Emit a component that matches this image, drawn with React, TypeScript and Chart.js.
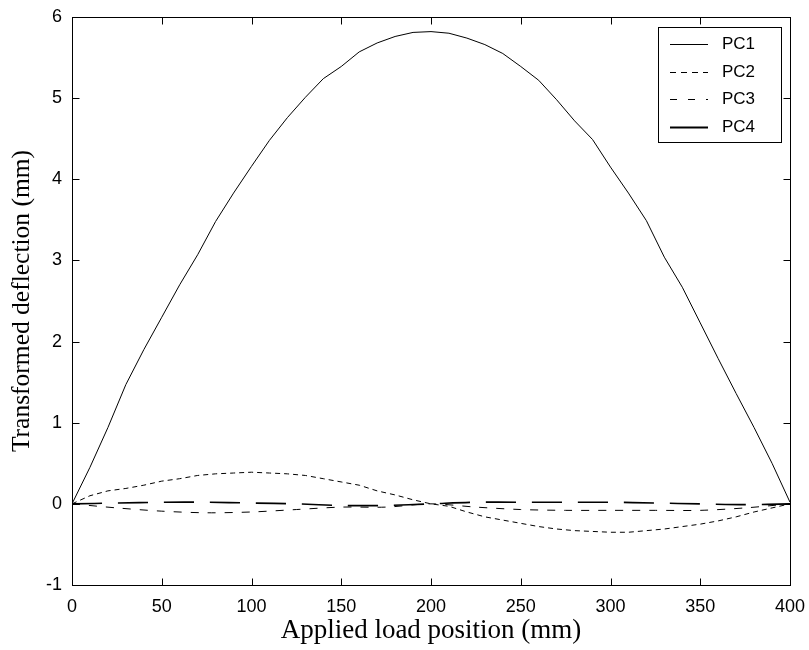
import React, { useEffect, useRef } from "react";
import { Chart, registerables } from "chart.js";

Chart.register(...registerables);

// X positions (mm)
const xPC1 = [0, 10, 20, 30, 40, 50, 60, 70, 80, 90, 100, 110, 120, 130, 140, 150, 160, 170, 180, 190, 200, 210, 220, 230, 240, 250, 260, 270, 280, 290, 300, 310, 320, 330, 340, 350, 360, 370, 380, 390, 400];
const pc1 = [0, 0.45, 0.94, 1.47, 1.9, 2.3, 2.7, 3.07, 3.48, 3.83, 4.16, 4.48, 4.76, 5.01, 5.24, 5.39, 5.57, 5.68, 5.76, 5.81, 5.82, 5.8, 5.74, 5.66, 5.55, 5.39, 5.22, 4.98, 4.72, 4.49, 4.15, 3.83, 3.49, 3.04, 2.67, 2.23, 1.79, 1.36, 0.94, 0.5, 0.02];
const pc2 = [0, 0.1, 0.16, 0.19, 0.23, 0.28, 0.31, 0.35, 0.37, 0.38, 0.39, 0.38, 0.37, 0.35, 0.31, 0.27, 0.23, 0.16, 0.11, 0.05, 0.0, -0.03, -0.1, -0.16, -0.2, -0.24, -0.28, -0.31, -0.33, -0.34, -0.35, -0.35, -0.33, -0.31, -0.28, -0.25, -0.21, -0.16, -0.1, -0.05, 0];
const xCoarse = [0, 25, 50, 75, 100, 125, 150, 175, 200, 225, 250, 275, 300, 325, 350, 375, 400];
const pc3 = [0, -0.05, -0.09, -0.11, -0.1, -0.07, -0.04, -0.04, 0, -0.04, -0.07, -0.08, -0.08, -0.08, -0.08, -0.05, 0];
const pc4 = [0, 0.01, 0.02, 0.02, 0.01, 0.0, -0.02, -0.02, 0, 0.02, 0.02, 0.02, 0.02, 0.01, 0.0, -0.01, 0];

const seriesNames = ["PC1", "PC2", "PC3", "PC4"];
const xTitle = "Applied load position (mm)";
const yTitle = "Transformed deflection (mm)";

const toPts = (xs: number[], ys: number[]) => xs.map((x, i) => ({ x, y: ys[i] }));

export default function App() {
  const ref = useRef<HTMLCanvasElement | null>(null);

  useEffect(() => {
    document.body.style.margin = "0";
    const canvas = ref.current;
    if (!canvas) return;

    const legendStyles = [
      { dash: [] as number[], width: 1 },
      { dash: [6, 5], width: 1 },
      { dash: [7, 11], width: 1 },
      { dash: [], width: 2 },
    ];

    const framePlugin = {
      id: "frameTicks",
      afterDraw(chart: any) {
        const ctx = chart.ctx;
        const { left, right, top, bottom } = chart.chartArea;
        const xs = chart.scales.x;
        const ys = chart.scales.y;
        ctx.save();
        ctx.strokeStyle = "#000";
        ctx.lineWidth = 1;
        ctx.setLineDash([]);
        const L = Math.round(left) + 0.5;
        const R = Math.round(right) + 0.5;
        const T = Math.round(top) + 0.5;
        const B = Math.round(bottom) + 0.5;
        ctx.strokeRect(L, T, R - L, B - T);
        const tl = 7;
        ctx.beginPath();
        xs.ticks.forEach((t: any) => {
          const px = Math.round(xs.getPixelForValue(t.value)) + 0.5;
          ctx.moveTo(px, B);
          ctx.lineTo(px, B - tl);
          ctx.moveTo(px, T);
          ctx.lineTo(px, T + tl);
        });
        ys.ticks.forEach((t: any) => {
          const py = Math.round(ys.getPixelForValue(t.value)) + 0.5;
          ctx.moveTo(L, py);
          ctx.lineTo(L + tl, py);
          ctx.moveTo(R, py);
          ctx.lineTo(R - tl, py);
        });
        ctx.stroke();

        // legend box
        const bx = 658.5, by = 27.5, bw = 123, bh = 115;
        ctx.fillStyle = "#fff";
        ctx.fillRect(bx, by, bw, bh);
        ctx.strokeRect(bx, by, bw, bh);
        ctx.font = "17px 'Liberation Sans', Arial, sans-serif";
        ctx.textBaseline = "middle";
        ctx.textAlign = "left";
        ctx.fillStyle = "#000";
        chart.data.datasets.forEach((ds: any, i: number) => {
          const y = Math.round(44 + i * 27.5) + 0.5;
          const st = legendStyles[i];
          ctx.lineWidth = st.width;
          ctx.setLineDash(st.dash);
          ctx.beginPath();
          ctx.moveTo(670, y);
          ctx.lineTo(708, y);
          ctx.stroke();
          ctx.setLineDash([]);
          ctx.fillText(ds.label, 722, y);
        });
        ctx.restore();
      },
    };

    const chart = new Chart(canvas, {
      type: "line",
      data: {
        datasets: [
          { label: seriesNames[0], data: toPts(xPC1, pc1), borderColor: "#000", borderWidth: 1, pointRadius: 0, tension: 0, fill: false },
          { label: seriesNames[1], data: toPts(xPC1, pc2), borderColor: "#000", borderWidth: 1, borderDash: [5, 4], pointRadius: 0, tension: 0, fill: false },
          { label: seriesNames[2], data: toPts(xCoarse, pc3), borderColor: "#000", borderWidth: 1, borderDash: [8, 9], pointRadius: 0, tension: 0.3, fill: false },
          { label: seriesNames[3], data: toPts(xCoarse, pc4), borderColor: "#000", borderWidth: 1.6, borderDash: [30, 16], pointRadius: 0, tension: 0.3, fill: false },
        ],
      },
      options: {
        responsive: false,
        animation: false,
        devicePixelRatio: 1,
        layout: { padding: { top: 17, right: 19, left: 0, bottom: 0 } },
        plugins: { legend: { display: false }, tooltip: { enabled: false } },
        scales: {
          x: {
            type: "linear",
            min: 0,
            max: 400,
            ticks: { stepSize: 50, color: "#000", padding: 11, font: { family: "'Liberation Sans', Arial, sans-serif", size: 18 } },
            grid: { display: false, drawTicks: false },
            border: { display: false },
            title: { display: true, text: xTitle, color: "#000", padding: { top: 0, bottom: 3 }, font: { family: "'Liberation Serif', 'Times New Roman', serif", size: 27 } },
            afterFit: (s: any) => { s.height = 65; s.paddingLeft = 0; s.paddingRight = 0; },
          },
          y: {
            type: "linear",
            min: -1,
            max: 6,
            ticks: { stepSize: 1, color: "#000", padding: 10, font: { family: "'Liberation Sans', Arial, sans-serif", size: 18 } },
            grid: { display: false, drawTicks: false },
            border: { display: false },
            title: { display: true, text: yTitle, color: "#000", padding: { top: 7, bottom: 0 }, font: { family: "'Liberation Serif', 'Times New Roman', serif", size: 25.5 } },
            afterFit: (s: any) => { s.width = 72; s.paddingTop = 0; s.paddingBottom = 0; },
          },
        },
      },
      plugins: [framePlugin],
    });

    return () => chart.destroy();
  }, []);

  return (
    <div style={{ width: 809, height: 650 }}>
      <canvas ref={ref} width={809} height={650} style={{ display: "block" }} />
    </div>
  );
}
